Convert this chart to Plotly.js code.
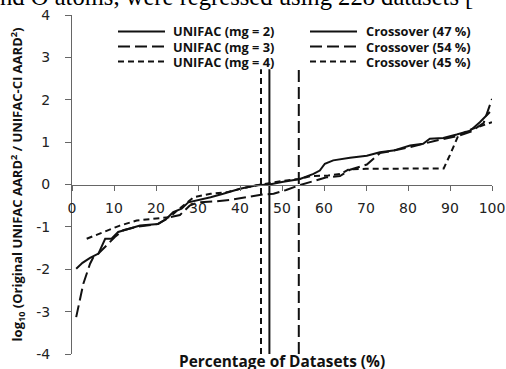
<!DOCTYPE html>
<html><head><meta charset="utf-8">
<script src="https://cdn.plot.ly/plotly-3.0.1.min.js"></script>
<style>html,body{margin:0;padding:0;background:#fff;}#chart{width:506px;height:369px;}</style>
</head><body><div id="chart"></div>
<script>
// ---- data ----
const mg2X = [1, 2.5, 4.3, 6.3, 7.9, 9.4, 11, 13.4, 16.2, 20.5, 22.5, 24.1, 26.1, 27.7, 30.5, 33, 36, 40, 44, 47, 50, 54.3, 57.5, 59, 60.2, 62.2, 66.2, 70.2, 73.3, 76.5, 80.5, 83.6, 85.2, 88.4, 91.6, 94.8, 97.1, 99.5];
const mg2Y = [-1.99, -1.85, -1.73, -1.63, -1.28, -1.28, -1.12, -1.05, -0.97, -0.93, -0.81, -0.65, -0.57, -0.42, -0.36, -0.3, -0.22, -0.1, -0.02, 0.0, 0.06, 0.13, 0.25, 0.33, 0.49, 0.57, 0.63, 0.68, 0.76, 0.80, 0.92, 0.96, 1.08, 1.10, 1.18, 1.27, 1.47, 1.71];
const mg3X = [1, 2.7, 4.3, 5.1, 6.3, 8.3, 10.2, 12.2, 15.4, 20.5, 23.3, 25.7, 28, 30, 34, 38, 42, 45, 48, 51, 54, 57.5, 60.6, 63.8, 66.2, 70.2, 71.7, 73.3, 76.5, 80.5, 86.8, 92, 95, 98, 100];
const mg3Y = [-3.13, -2.34, -1.87, -1.71, -1.63, -1.44, -1.24, -1.08, -1.0, -0.93, -0.77, -0.72, -0.5, -0.42, -0.4, -0.36, -0.3, -0.24, -0.22, -0.13, -0.02, 0.08, 0.17, 0.2, 0.35, 0.47, 0.6, 0.74, 0.80, 0.88, 1.04, 1.15, 1.25, 1.45, 2.02];
const mg4X = [3.5, 7.5, 11.4, 15.4, 19.4, 23.3, 25, 27, 29, 33, 37, 41, 45, 50, 54, 57, 61, 64, 66, 70, 80, 88.5, 90, 92, 95, 100];
const mg4Y = [-1.28, -1.12, -0.97, -0.85, -0.81, -0.77, -0.62, -0.45, -0.3, -0.22, -0.18, -0.08, 0, 0.08, 0.13, 0.2, 0.21, 0.25, 0.36, 0.37, 0.37, 0.38, 0.7, 1.16, 1.3, 1.47];
const seriesNames = ['UNIFAC (mg = 2)', 'UNIFAC (mg = 3)', 'UNIFAC (mg = 4)'];
const crossoverPct = [47, 54, 45];
const crossoverNames = ['Crossover (47 %)', 'Crossover (54 %)', 'Crossover (45 %)'];
const xTickVals = [0, 10, 20, 30, 40, 50, 60, 70, 80, 90, 100];
const xTickText = ['0', '10', '20', '30', '40', '50', '60', '70', '80', '90', '100'];
const yTickVals = [-4, -3, -2, -1, 0, 1, 2, 3, 4];
const yTickText = ['-4', '-3', '-2', '-1', '0', '1', '2', '3', '4'];
const headerText = 'nd O atoms, were regressed using 228 datasets [';

// ---- styling ----
const crossLineSpan = [-4, 2.72];
const dashes = ['solid', '12px,5px', '6px,4px'];
const ink = '#111';
const axisGray = '#666';
const boldFont = '"Open Sans", Lato, sans-serif';
// plot box in pixels (for placing the hand-drawn legend)
const M = {l: 72, r: 14, t: 15, b: 15};
const W = 506, H = 369;
const pw = W - M.l - M.r, ph = H - M.t - M.b;
const px2x = p => (p - M.l) / pw;
const px2y = p => (H - M.b - p) / ph;
const legendRowsPx = [31.5, 46.5, 61.5];
const legendColsPx = [{l0: 118, l1: 165, t: 172}, {l0: 310, l1: 357, t: 365}];

const seriesX = [mg2X, mg3X, mg4X];
const seriesY = [mg2Y, mg3Y, mg4Y];
const traces = [];
const shapes = [];
const annotations = [];
for (let i = 0; i < 3; i++) {
  traces.push({x: seriesX[i], y: seriesY[i], type: 'scatter', mode: 'lines', name: seriesNames[i],
    line: {color: ink, width: 2, dash: dashes[i]}, hoverinfo: 'skip'});
  traces.push({x: [crossoverPct[i], crossoverPct[i]], y: crossLineSpan, type: 'scatter', mode: 'lines', name: crossoverNames[i],
    line: {color: ink, width: 2, dash: dashes[i]}, hoverinfo: 'skip'});
  const labels = [seriesNames[i], crossoverNames[i]];
  legendColsPx.forEach((c, k) => {
    shapes.push({type: 'line', xref: 'paper', yref: 'paper', x0: px2x(c.l0), x1: px2x(c.l1),
      y0: px2y(legendRowsPx[i]), y1: px2y(legendRowsPx[i]), line: {color: ink, width: 2, dash: dashes[i]}});
    annotations.push({text: labels[k], xref: 'paper', yref: 'paper', x: px2x(c.t), y: px2y(legendRowsPx[i]),
      xanchor: 'left', yanchor: 'middle', showarrow: false, borderpad: 0,
      font: {family: boldFont, size: 12.8, color: ink, weight: 'bold'}});
  });
}
annotations.push({text: 'Percentage of Datasets (%)', xref: 'paper', yref: 'paper', x: 0.5, y: px2y(361),
  xanchor: 'center', yanchor: 'middle', showarrow: false, borderpad: 0,
  font: {family: boldFont, size: 15.4, color: ink, weight: 'bold'}});
annotations.push({text: headerText, xref: 'paper', yref: 'paper', x: px2x(-1), y: px2y(-3.5),
  xanchor: 'left', yanchor: 'middle', showarrow: false, borderpad: 0,
  font: {family: '"Liberation Serif", "Times New Roman", serif', size: 24.6, color: '#000'}});

const layout = {
  width: W, height: H,
  margin: M,
  paper_bgcolor: '#fff', plot_bgcolor: '#fff',
  showlegend: false,
  xaxis: {range: [0, 100], anchor: 'free', position: 0.5, tickvals: xTickVals, ticktext: xTickText,
    showgrid: false, zeroline: false, showline: true, linecolor: axisGray, linewidth: 1,
    ticks: 'outside', ticklen: 5, tickcolor: axisGray, ticklabelstandoff: 6,
    tickfont: {family: '"DejaVu Sans", sans-serif', size: 14, color: '#222'}},
  yaxis: {range: [-4, 4], tickvals: yTickVals, ticktext: yTickText, showgrid: false, zeroline: false,
    showline: true, linecolor: axisGray, linewidth: 1, ticks: 'outside', ticklen: 6, tickcolor: axisGray,
    ticklabelstandoff: 12,
    tickfont: {family: '"DejaVu Sans", sans-serif', size: 14, color: '#222'},
    title: {text: 'log<sub>10</sub> (Original UNIFAC AARD<sup>2</sup> / UNIFAC-CI AARD<sup>2</sup>)', standoff: 10,
      font: {family: boldFont, size: 13, color: ink, weight: 'bold'}}},
  shapes: shapes,
  annotations: annotations
};
Plotly.newPlot('chart', traces, layout, {staticPlot: true, displayModeBar: false});
</script></body></html>
